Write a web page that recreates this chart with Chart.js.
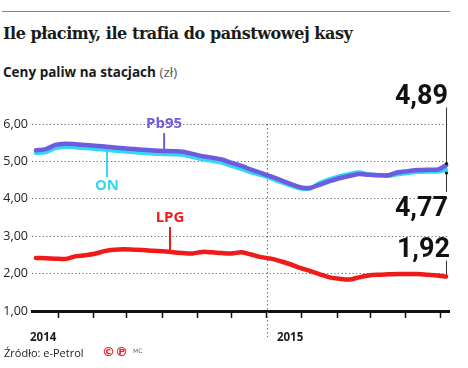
<!DOCTYPE html>
<html lang="pl">
<head>
<meta charset="utf-8">
<title>Ile płacimy, ile trafia do państwowej kasy</title>
<script src="https://cdn.jsdelivr.net/npm/chart.js@4.4.1/dist/chart.umd.min.js"></script>
<style>
    html, body { margin: 0; padding: 0; background: #fff; }
    body { width: 468px; height: 368px; position: relative; overflow: hidden; font-family: 'Open Sans', sans-serif; color: #1a1a1a; }
    .rule { position: absolute; left: 2px; top: 11px; width: 448px; height: 1px; background: #8a8a8a; }
    .title { position: absolute; left: 3px; top: 24px; font: bold 16px 'DejaVu Serif', serif; letter-spacing: -0.45px; white-space: nowrap; }
    .subtitle { position: absolute; left: 3px; top: 63px; font: bold 13.5px 'Open Sans', sans-serif; white-space: nowrap; }
    .subtitle span { font-weight: normal; color: #555; }
    .source { position: absolute; left: 4px; top: 345px; font: 11px 'Open Sans', sans-serif; white-space: nowrap; }
    .marks { position: absolute; left: 102px; top: 344px; font: bold 13px 'DejaVu Sans', sans-serif; color: #e8202a; white-space: nowrap; }
    .marks small { font: 6px 'DejaVu Sans', sans-serif; color: #666; margin-left: 5px; vertical-align: 3px; }
    #chart { position: absolute; left: 0; top: 0; }
</style>
</head>
<body>
<div class="rule"></div>
<div class="title">Ile płacimy, ile trafia do państwowej kasy</div>
<div class="subtitle">Ceny paliw na stacjach <span>(zł)</span></div>
<canvas id="chart" width="468" height="368"></canvas>
<div class="source">Źródło: e-Petrol</div>
<div class="marks">©℗<small>MC</small></div>
<script>
(function () {
    'use strict';

    // months counted from January 2014
    const months = [
        0.2, 0.7, 1.2, 1.7, 2.2, 2.7, 3.2, 3.7, 4.2, 4.7,
        5.2, 5.7, 6.2, 6.7, 7.2, 7.7, 8.2, 8.7, 9.2, 9.7,
        10.2, 10.7, 11.2, 11.7, 12.2, 12.7, 13.2, 13.7, 14.2, 14.7,
        15.2, 15.7, 16.2, 16.7, 17.2, 17.7, 18.2, 18.7, 19.2, 19.7,
        20.2, 20.7, 21.15
    ];
    const pb95 = [
        5.30, 5.33, 5.44, 5.47, 5.46, 5.44, 5.42, 5.40, 5.37, 5.35,
        5.33, 5.31, 5.29, 5.28, 5.27, 5.26, 5.20, 5.14, 5.10, 5.05,
        4.96, 4.88, 4.78, 4.69, 4.60, 4.50, 4.40, 4.31, 4.29, 4.38,
        4.47, 4.55, 4.61, 4.66, 4.64, 4.63, 4.63, 4.71, 4.74, 4.77,
        4.78, 4.78, 4.89
    ];
    const on = [
        5.23, 5.25, 5.36, 5.39, 5.38, 5.36, 5.34, 5.32, 5.29, 5.27,
        5.25, 5.23, 5.21, 5.20, 5.19, 5.18, 5.12, 5.06, 5.02, 4.97,
        4.88, 4.80, 4.71, 4.64, 4.55, 4.45, 4.36, 4.28, 4.28, 4.42,
        4.52, 4.60, 4.66, 4.70, 4.65, 4.63, 4.62, 4.66, 4.69, 4.72,
        4.73, 4.73, 4.77
    ];
    const lpg = [
        2.42, 2.41, 2.40, 2.39, 2.46, 2.49, 2.53, 2.60, 2.64, 2.65,
        2.64, 2.63, 2.61, 2.60, 2.57, 2.55, 2.54, 2.58, 2.57, 2.55,
        2.54, 2.57, 2.51, 2.44, 2.40, 2.33, 2.25, 2.15, 2.07, 1.98,
        1.90, 1.86, 1.84, 1.90, 1.95, 1.97, 1.98, 1.99, 1.99, 1.99,
        1.97, 1.95, 1.92
    ];
    const xTicks = [1.33, 3.12, 4.85, 6.69, 8.43, 10.21, 12, 13.79, 15.58, 17.31, 19.1, 20.89];
    const yearLabels = ['2014', '2015'];
    const endLabels = ['4,89', '4,77', '1,92'];

    const colors = { pb95: '#6b5ce0', on: '#33d8f2', lpg: '#ef1b1b' };

    const toPoints = (values) => values.map((v, i) => ({ x: months[i], y: v }));

    const series = (label, values, color, order) => ({
        label: label,
        data: toPoints(values),
        borderColor: color,
        borderWidth: 4.5,
        pointRadius: 0,
        tension: 0.3,
        borderCapStyle: 'round',
        borderJoinStyle: 'round',
        fill: false,
        order: order
    });

    const decorations = {
        id: 'decorations',
        beforeDatasetsDraw(chart) {
            const { ctx, scales: { x, y } } = chart;
            const px = Math.round(x.getPixelForValue(12)) + 0.5;
            ctx.save();
            ctx.strokeStyle = '#777';
            ctx.lineWidth = 1.2;
            ctx.setLineDash([1.5, 2.5]);
            ctx.beginPath();
            ctx.moveTo(px, y.getPixelForValue(6));
            ctx.lineTo(px, y.getPixelForValue(1) + 26);
            ctx.stroke();
            ctx.restore();
        },
        afterDatasetsDraw(chart) {
            const { ctx, scales: { x, y } } = chart;
            const last = months.length - 1;
            const ex = Math.round(x.getPixelForValue(months[last]));

            const seriesLabel = (text, color, tx, ty, lineFrom, lineTo) => {
                ctx.fillStyle = color;
                ctx.strokeStyle = color;
                ctx.font = 'bold 15px "Open Sans", sans-serif';
                ctx.textAlign = 'center';
                ctx.textBaseline = 'middle';
                ctx.fillText(text, tx, ty);
                ctx.lineWidth = 2;
                ctx.beginPath();
                ctx.moveTo(tx, lineFrom);
                ctx.lineTo(tx, lineTo);
                ctx.stroke();
            };

            ctx.save();
            seriesLabel('Pb95', colors.pb95, x.getPixelForValue(6.75), 124, 133, y.getPixelForValue(5.28));
            seriesLabel('ON', colors.on, x.getPixelForValue(3.83), 186, y.getPixelForValue(5.31), 177);
            seriesLabel('LPG', colors.lpg, x.getPixelForValue(7.05), 218, 227, y.getPixelForValue(2.57));

            // end values
            ctx.fillStyle = '#111';
            ctx.strokeStyle = '#333';
            ctx.lineWidth = 1;
            ctx.font = 'bold 27px Roboto, sans-serif';
            ctx.textAlign = 'right';
            ctx.textBaseline = 'alphabetic';

            const pbY = y.getPixelForValue(pb95[last]);
            const onY = y.getPixelForValue(on[last]);
            const lpgY = y.getPixelForValue(lpg[last]);

            const stem = (y1, y2) => {
                ctx.beginPath();
                ctx.moveTo(ex + 0.5, y1);
                ctx.lineTo(ex + 0.5, y2);
                ctx.stroke();
            };
            const dot = (yy) => {
                ctx.beginPath();
                ctx.arc(ex + 0.5, yy, 1.6, 0, Math.PI * 2);
                ctx.fill();
            };

            ctx.fillText(endLabels[0], ex + 2, pbY - 62);
            stem(pbY - 58, pbY - 2);
            dot(pbY - 2);

            ctx.fillText(endLabels[1], ex + 2, onY + 46);
            stem(onY + 3, onY + 22);
            dot(onY + 3);

            ctx.fillText(endLabels[2], ex + 4, lpgY - 20);
            stem(lpgY - 16, lpgY - 2);
            ctx.restore();
        },
        afterDraw(chart) {
            const { ctx, scales: { x, y } } = chart;
            const base = y.getPixelForValue(1);
            ctx.save();
            ctx.fillStyle = '#1a1a1a';
            ctx.font = 'bold 11.5px "Open Sans", sans-serif';
            ctx.textAlign = 'left';
            ctx.textBaseline = 'middle';
            ctx.fillText(yearLabels[0], x.left - 2, base + 27);
            ctx.fillText(yearLabels[1], x.getPixelForValue(12) + 10, base + 27);
            ctx.restore();
        }
    };

    new Chart(document.getElementById('chart'), {
        type: 'line',
        data: {
            datasets: [
                series('Pb95', pb95, colors.pb95, 0),
                series('ON', on, colors.on, 1),
                series('LPG', lpg, colors.lpg, 2)
            ]
        },
        options: {
            responsive: false,
            animation: false,
            layout: { padding: { top: 124, right: 19, bottom: 49, left: 0 } },
            plugins: {
                legend: { display: false },
                tooltip: { enabled: false }
            },
            scales: {
                x: {
                    type: 'linear',
                    min: 0,
                    max: 21.3,
                    afterBuildTicks: (scale) => {
                        scale.ticks = xTicks.map((v) => ({ value: v }));
                    },
                    afterFit: (scale) => {
                        scale.height = 8;
                    },
                    ticks: { display: false },
                    grid: {
                        drawOnChartArea: false,
                        drawTicks: true,
                        tickLength: 7,
                        tickWidth: 1.5,
                        tickColor: '#111'
                    },
                    border: { display: true, color: '#111', width: 3 }
                },
                y: {
                    min: 1,
                    max: 6,
                    afterFit: (scale) => {
                        scale.width = 32;
                    },
                    ticks: {
                        stepSize: 1,
                        padding: 4,
                        color: '#222',
                        font: { family: '"Open Sans", sans-serif', size: 12.5 },
                        callback: (v) => v.toFixed(2).replace('.', ',')
                    },
                    grid: {
                        drawTicks: false,
                        color: (c) => (c.tick && c.tick.value === 1 ? 'rgba(0,0,0,0)' : '#666'),
                        lineWidth: 1
                    },
                    border: { display: false, dash: [1.2, 2.4] }
                }
            }
        },
        plugins: [decorations]
    });
})();
</script>
</body>
</html>
